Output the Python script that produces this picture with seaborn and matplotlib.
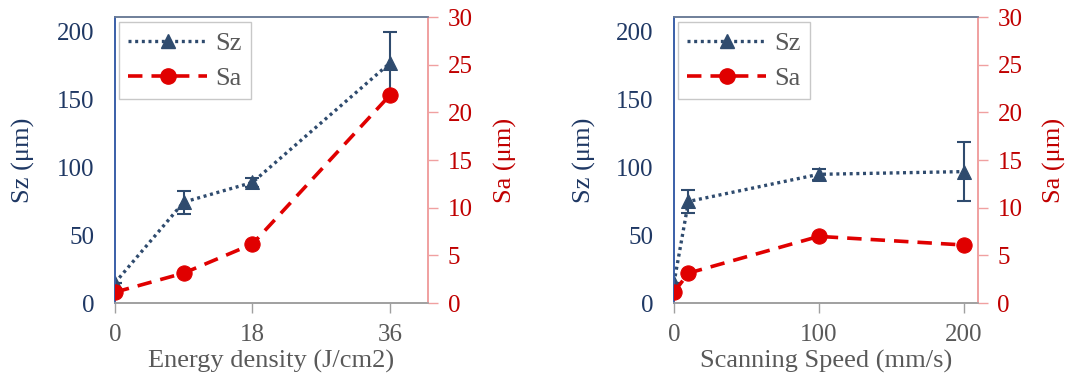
import matplotlib
matplotlib.use("Agg")
import matplotlib.pyplot as plt
import seaborn as sns
import pandas as pd
from matplotlib.lines import Line2D

# ---- data ----
energy_x = [0, 9, 18, 36]
energy_sz = [15, 74.5, 89, 177]
energy_sz_err = [0, 8.5, 3, 23]
energy_sa = [1.15, 3.15, 6.2, 21.8]

speed_x = [0, 10, 100, 200]
speed_sz = [15, 75, 95, 97]
speed_sz_err = [0, 8.5, 4, 22]
speed_sa = [1.15, 3.15, 7.0, 6.1]

energy_ticks = [0, 18, 36]
speed_ticks = [0, 100, 200]
sz_ticks = [0, 50, 100, 150, 200]
sa_ticks = [0, 5, 10, 15, 20, 25, 30]

SZ_COL = "#2F4B6E"
SZ_TXT = "#1F3864"
SA_COL = "#E00000"
SA_TXT = "#C00000"
GRAY = "#595959"

sns.set_theme(style="white")
plt.rcParams['font.family'] = ['Liberation Serif', 'DejaVu Serif']

fig = plt.figure(figsize=(10.92, 3.78), dpi=100)

panels = [
    dict(x=energy_x, sz=energy_sz, err=energy_sz_err, sa=energy_sa,
         xticks=energy_ticks, xlim=(0, 41), xlabel="Energy density (J/cm2)",
         pos=[0.1053, 0.198, 0.2867, 0.757], sa_lab=1.21),
    dict(x=speed_x, sz=speed_sz, err=speed_sz_err, sa=speed_sa,
         xticks=speed_ticks, xlim=(0, 210), xlabel="Scanning Speed (mm/s)",
         pos=[0.6172, 0.198, 0.2784, 0.757], sa_lab=1.215),
]

SZ_LS = (0, (0.9, 1.1))
SA_LS = (0, (4, 2.5))

for p in panels:
    ax = fig.add_axes(p["pos"])
    ax2 = ax.twinx()
    df = pd.DataFrame({"x": p["x"], "sz": p["sz"], "sa": p["sa"]})

    ax.errorbar(p["x"], p["sz"], yerr=p["err"], fmt="none", ecolor=SZ_COL,
                elinewidth=1.5, capsize=5, capthick=1.5, zorder=2)
    sns.lineplot(data=df, x="x", y="sz", ax=ax, color=SZ_COL, linestyle=SZ_LS,
                 linewidth=2.4, marker="^", markersize=10, markeredgecolor=SZ_COL,
                 markerfacecolor=SZ_COL, zorder=3)
    sns.lineplot(data=df, x="x", y="sa", ax=ax2, color=SA_COL, linestyle=SA_LS,
                 linewidth=2.6, marker="o", markersize=11, markeredgecolor=SA_COL,
                 markerfacecolor=SA_COL, zorder=3)

    ax.set_xlim(*p["xlim"])
    ax.set_ylim(0, 211)
    ax2.set_ylim(0, 30)
    ax.set_xticks(p["xticks"])
    ax.set_yticks(sz_ticks)
    ax2.set_yticks(sa_ticks)
    ax.set_xticklabels([str(t) for t in p["xticks"]])

    ax.tick_params(axis="x", colors="#A0A0A0", labelcolor=GRAY, labelsize=18,
                   length=7, width=1, direction="out", bottom=True, pad=8)
    ax.tick_params(axis="y", labelcolor=SZ_TXT, labelsize=18, length=0, pad=15)
    ax2.tick_params(axis="y", colors="#F0A0A0", labelcolor=SA_TXT, labelsize=18,
                    length=7, width=1, direction="out", right=True, pad=7)

    ax.set_xlabel(p["xlabel"], color=GRAY, fontsize=19)
    ax.xaxis.set_label_coords(0.5, -0.162)
    ax.set_ylabel("Sz (μm)", color=SZ_TXT, fontsize=19)
    ax.yaxis.set_label_coords(-0.255, 0.5)
    ax2.set_ylabel("Sa (μm)", color=SA_TXT, fontsize=19)
    ax2.yaxis.set_label_coords(p["sa_lab"], 0.5)

    for a in (ax, ax2):
        for s in a.spines.values():
            s.set_visible(True)
            s.set_linewidth(1.2)
        a.spines["left"].set_color("#3A5FA8")
        a.spines["top"].set_color("#6E7F99")
        a.spines["right"].set_color("#F0A0A0")
        a.spines["bottom"].set_color("#A0A0A0")

    handles = [
        Line2D([], [], color=SZ_COL, linestyle=SZ_LS, linewidth=2.4,
               marker="^", markersize=10),
        Line2D([], [], color=SA_COL, linestyle=SA_LS, linewidth=2.6,
               marker="o", markersize=11),
    ]
    leg = ax2.legend(handles, ["Sz", "Sa"], loc="upper left",
                     bbox_to_anchor=(0.013, 0.982), fontsize=19, frameon=True,
                     fancybox=False, edgecolor="#C8C8C8", framealpha=1,
                     handlelength=3.0, handletextpad=0.3, borderpad=0.35,
                     labelspacing=0.45, borderaxespad=0)
    leg.get_frame().set_linewidth(1.0)
    for t in leg.get_texts():
        t.set_color(GRAY)

fig.savefig("out.png", dpi=100)
